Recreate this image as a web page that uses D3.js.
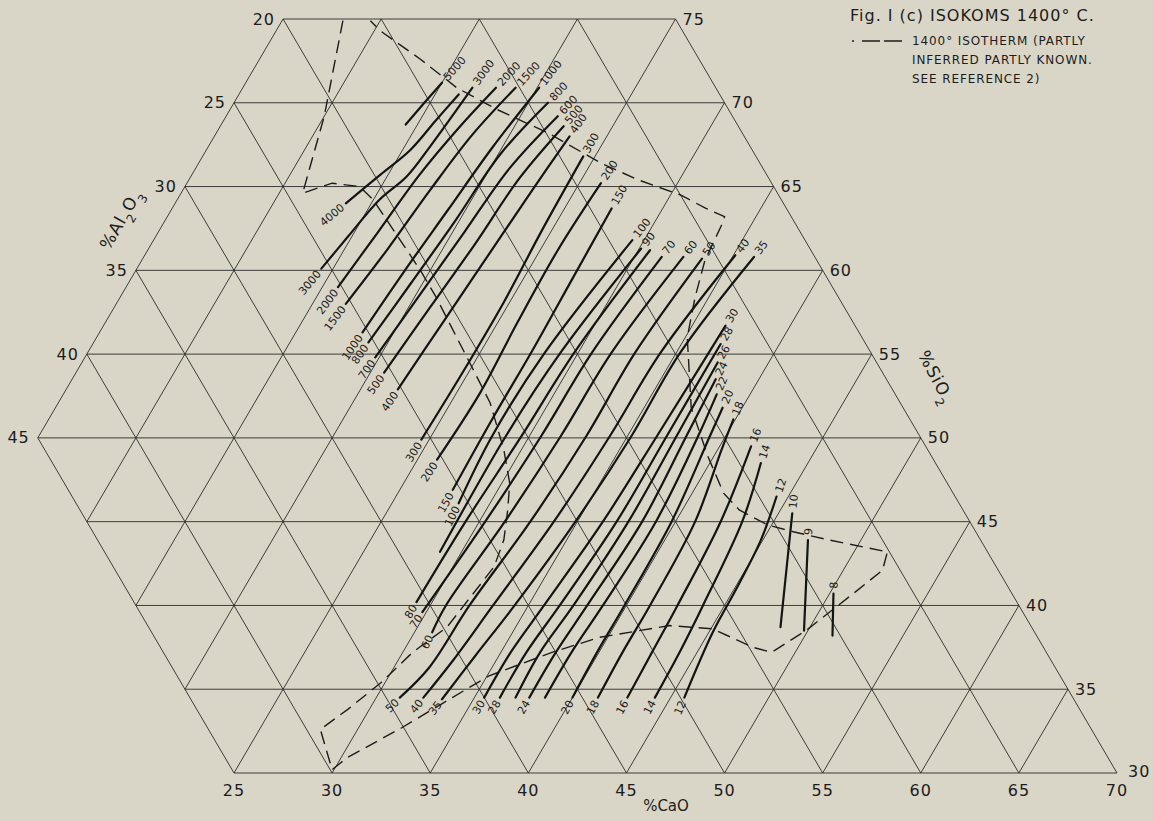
<!DOCTYPE html>
<html>
<head>
<meta charset="utf-8">
<script src="https://cdn.jsdelivr.net/npm/d3@7"></script>
<style>
  html, body { margin: 0; padding: 0; background: #dad6c7; }
  svg { display: block; }
  text { font-family: "DejaVu Sans", "Liberation Sans", sans-serif; fill: #1c1c1c; }
</style>
</head>
<body>
<svg id="chart" width="1154" height="821"></svg>
<script>
// edge tick labels
const caoTicks = [25, 30, 35, 40, 45, 50, 55, 60, 65, 70];
const al2o3Ticks = [20, 25, 30, 35, 40, 45];
const sio2Ticks = [75, 70, 65, 60, 55, 50, 45, 40, 35, 30];

// isokoms (poise), points as [CaO %, SiO2 %] from the low end to the high end
// lo = label at the lower end, hi = label at the upper end
const upperIsokoms = [
  {lo: null, hi: '5000', pts: [[14.4, 68.7], [14.7, 70.0], [15.0, 71.2]]},
  {lo: '4000', hi: null, pts: [[13.7, 64.0], [14.6, 65.7], [15.4, 67.2], [15.8, 68.9], [16.2, 70.5]]},
  {lo: '3000', hi: '3000', pts: [[14.4, 60.1], [14.8, 62.0], [15.3, 64.2], [16.0, 65.6], [16.3, 67.4], [16.7, 70.9]]},
  {lo: '2000', hi: '2000', pts: [[15.8, 59.0], [16.2, 62.3], [16.6, 65.7], [17.2, 68.5], [17.9, 70.9]]},
  {lo: '1500', hi: '1500', pts: [[16.7, 58.0], [17.2, 61.3], [17.6, 64.8], [18.1, 68.1], [18.9, 70.9]]},
  {lo: '1000', hi: '1000', pts: [[18.4, 56.3], [18.7, 59.9], [19.1, 63.6], [19.5, 67.3], [20.1, 70.9]]},
  {lo: '800', hi: '800', pts: [[19.0, 55.7], [19.4, 59.2], [19.8, 63.0], [20.1, 66.9], [21.0, 70.0]]},
  {lo: '700', hi: '600', pts: [[19.8, 54.8], [20.2, 58.5], [20.6, 62.3], [21.0, 66.1], [21.9, 69.2]]},
  {lo: '500', hi: '500', pts: [[20.7, 53.9], [21.1, 57.8], [21.5, 61.6], [21.8, 65.5], [22.5, 68.6]]},
  {lo: '400', hi: '400', pts: [[21.9, 52.9], [22.2, 56.9], [22.5, 60.8], [22.8, 64.7], [23.1, 68.0]]},
  {lo: '300', hi: '300', pts: [[24.6, 49.9], [24.7, 53.9], [24.7, 58.1], [24.5, 62.4], [24.4, 66.8]]},
  {lo: '200', hi: '200', pts: [[26.0, 48.7], [26.2, 52.7], [26.0, 56.9], [25.9, 61.2], [26.1, 65.2]]},
  {lo: '150', hi: '150', pts: [[27.7, 46.9], [27.6, 51.1], [27.6, 55.2], [27.5, 59.4], [27.4, 63.7]]}
];

const lowerIsokoms = [
  {lo: '100', hi: '100', pts: [[28.4, 46.1], [28.1, 50.1], [28.3, 55.1], [29.4, 61.8]]},
  {lo: null, hi: '90', pts: [[28.9, 43.2], [28.8, 50.1], [29.1, 55.1], [30.1, 61.3]]},
  {lo: '80', hi: null, pts: [[29.2, 40.2], [29.3, 45.0], [29.6, 50.1], [29.8, 55.1], [30.6, 61.2]]},
  {lo: '70', hi: '70', pts: [[29.8, 39.6], [30.3, 45.0], [30.6, 50.1], [30.7, 55.1], [31.4, 60.8]]},
  {lo: '60', hi: '60', pts: [[30.9, 38.4], [30.8, 40.0], [31.3, 45.0], [31.6, 50.1], [31.7, 55.1], [32.5, 60.8]]},
  {lo: '50', hi: '50', pts: [[31.2, 34.5], [31.8, 36.3], [32.0, 40.0], [32.6, 45.0], [32.9, 50.1], [32.9, 55.1], [33.5, 60.7]]},
  {lo: '40', hi: '40', pts: [[32.4, 34.5], [32.8, 36.7], [33.2, 40.0], [33.8, 45.0], [34.1, 50.1], [34.2, 55.1], [35.1, 60.9]]},
  {lo: '35', hi: '35', pts: [[33.4, 34.4], [33.8, 37.0], [34.3, 40.0], [34.9, 45.0], [35.2, 50.1], [35.2, 55.1], [36.1, 60.8]]},
  {lo: '30', hi: '30', pts: [[35.5, 34.5], [35.5, 37.2], [35.8, 40.0], [36.3, 45.0], [36.5, 50.1], [36.7, 56.7]]},
  {lo: '28', hi: '28', pts: [[36.3, 34.5], [36.3, 37.2], [36.6, 40.0], [37.0, 45.0], [37.0, 50.1], [37.0, 55.6]]},
  {lo: null, hi: '26', pts: [[37.1, 34.5], [37.0, 37.2], [37.3, 40.0], [37.6, 45.0], [37.5, 50.1], [37.4, 54.5]]},
  {lo: '24', hi: '24', pts: [[37.8, 34.5], [37.8, 37.2], [38.0, 40.0], [38.3, 45.0], [38.0, 50.1], [37.8, 53.5]]},
  {lo: null, hi: '22', pts: [[38.6, 34.5], [38.6, 37.2], [38.8, 40.0], [39.0, 45.0], [38.6, 50.1], [38.3, 52.6]]},
  {lo: '20', hi: '20', pts: [[40.0, 34.5], [39.9, 37.2], [39.9, 40.0], [39.8, 45.0], [39.2, 50.1], [39.0, 51.8]]},
  {lo: '18', hi: '18', pts: [[41.3, 34.5], [41.2, 37.2], [41.2, 40.0], [41.0, 45.0], [40.2, 49.3], [39.9, 51.1]]},
  {lo: '16', hi: '16', pts: [[42.8, 34.5], [42.7, 37.2], [42.6, 40.0], [42.3, 45.0], [41.6, 49.5]]},
  {lo: '14', hi: '14', pts: [[44.2, 34.5], [44.1, 37.3], [43.9, 40.0], [43.4, 45.0], [42.6, 48.5]]},
  {lo: '12', hi: '12', pts: [[45.7, 34.5], [45.2, 38.4], [45.1, 41.1], [44.9, 43.9], [44.4, 46.5]]}
];

const shortIsokoms = [
  {lo: null, hi: '10', pts: [[48.5, 38.7], [47.1, 42.1], [45.7, 45.5]]},
  {lo: null, hi: '9', pts: [[49.8, 38.5], [47.3, 43.9]]},
  {lo: null, hi: '8', pts: [[51.4, 38.2], [50.2, 40.7]]}
];

// 1400° isotherm boundary, [CaO %, SiO2 %]
const isotherm = [
  [8.1, 74.9], [10.0, 69.2], [11.2, 64.6], [12.4, 65.2], [13.9, 65.0], [15.0, 64.2],
  [16.5, 62.8], [19.5, 60.0], [21.1, 58.4], [24.1, 55.2], [27.0, 52.1], [29.1, 49.3],
  [30.4, 47.3], [31.1, 45.7], [31.8, 43.9], [32.1, 42.3], [31.7, 39.9], [31.5, 38.7],
  [30.5, 37.2], [29.8, 35.4], [28.9, 33.8], [28.1, 32.6], [29.9, 30.2], [30.3, 30.9],
  [32.2, 32.7], [33.5, 34.1], [35.1, 35.8], [37.6, 37.2], [39.6, 38.1], [42.8, 38.8],
  [45.1, 38.6], [47.7, 37.5], [48.8, 37.2], [49.9, 38.5], [51.2, 40.7], [52.0, 42.1],
  [51.7, 43.2], [48.4, 43.9], [46.3, 44.4], [44.8, 44.8], [42.9, 45.7], [41.6, 46.7],
  [39.7, 48.9], [37.4, 51.8], [35.1, 56.0], [34.3, 58.4], [33.7, 60.6], [33.5, 62.7],
  [33.4, 63.2], [32.2, 63.7], [30.5, 64.5], [27.9, 65.4], [25.5, 66.4], [21.9, 68.2],
  [18.6, 69.6], [15.9, 70.9], [13.2, 72.6], [10.3, 74.3], [9.5, 74.9]
];

const svg = d3.select('svg#chart');

// u = CaO + SiO2/2 runs along the bottom, SiO2 runs upward
const x = d3.scaleLinear().domain([40, 85]).range([234, 1117]);
const y = d3.scaleLinear().domain([30, 75]).range([773, 19]);
const project = p => [x(p[0] + p[1] / 2), y(p[1])];

// Grid
const grid = svg.append('g').attr('stroke', '#2a2a2a').attr('stroke-width', 0.9);
function seg(a, b) {
  const p = project(a), q = project(b);
  grid.append('line').attr('x1', p[0]).attr('y1', p[1]).attr('x2', q[0]).attr('y2', q[1]);
}
sio2Ticks.forEach(s => seg(s >= 50 ? [5, s] : [55 - s, s], [100 - s, s]));
d3.range(5, 75, 5).forEach(c => {
  const s0 = Math.max(30, 55 - c), s1 = Math.min(75, 100 - c);
  if (s1 > s0) seg([c, s0], [c, s1]);
});
d3.range(0, 50, 5).forEach(a => {
  const s1 = Math.min(75, 95 - a);
  seg([70 - a, 30], [100 - a - s1, s1]);
});

// Edge labels
const labels = svg.append('g').style('font-size', '16px').style('letter-spacing', '1px');
caoTicks.forEach(c => {
  const p = project([c, 30]);
  labels.append('text').attr('x', p[0]).attr('y', p[1] + 23)
    .attr('text-anchor', 'middle').text(c);
});
al2o3Ticks.forEach(a => {
  const p = project([5, 95 - a]);
  labels.append('text').attr('x', p[0] - 8).attr('y', p[1]).attr('dy', '0.35em')
    .attr('text-anchor', 'end').text(a);
});
sio2Ticks.forEach(s => {
  const p = project([100 - s, s]);
  labels.append('text').attr('x', p[0] + (s === 30 ? 11 : 7)).attr('y', p[1] - (s === 30 ? 2 : 0))
    .attr('dy', '0.35em').text(s);
});

// Axis titles
svg.append('text').attr('x', 666).attr('y', 811).attr('text-anchor', 'middle')
  .style('font-size', '15px').text('%CaO');

const alTitle = svg.append('text').attr('transform', 'translate(126,222) rotate(-60)')
  .attr('text-anchor', 'middle').style('font-size', '17px').style('letter-spacing', '1px');
alTitle.append('tspan').text('%Al');
alTitle.append('tspan').attr('baseline-shift', 'sub').style('font-size', '12px').text('2');
alTitle.append('tspan').text('O');
alTitle.append('tspan').attr('baseline-shift', 'sub').style('font-size', '12px').text('3');

const siTitle = svg.append('text').attr('transform', 'translate(931,380) rotate(62)')
  .attr('text-anchor', 'middle').style('font-size', '17px').style('letter-spacing', '1px');
siTitle.append('tspan').text('%SiO');
siTitle.append('tspan').attr('baseline-shift', 'sub').style('font-size', '12px').text('2');

// Isotherm
const line = d3.line().x(d => project(d)[0]).y(d => project(d)[1]);
svg.append('path').attr('d', line(isotherm)).attr('fill', 'none')
  .attr('stroke', '#1c1c1c').attr('stroke-width', 1.4).attr('stroke-dasharray', '13,7');

// Isokoms
const smooth = d3.line().curve(d3.curveCatmullRom.alpha(0.5))
  .x(d => project(d)[0]).y(d => project(d)[1]);
const curves = svg.append('g');
const tags = svg.append('g').style('font-size', '11px');

function endLabel(P, text, atStart) {
  const n = P.length;
  const a = atStart ? P[0] : P[n - 1];
  const b = atStart ? P[1] : P[n - 2];
  const dx = atStart ? b[0] - a[0] : a[0] - b[0];
  const dy = atStart ? b[1] - a[1] : a[1] - b[1];
  const len = Math.hypot(dx, dy), ux = dx / len, uy = dy / len;
  const gap = atStart ? -4 : 5;
  const ang = Math.atan2(dy, dx) * 180 / Math.PI;
  tags.append('text')
    .attr('transform', `translate(${a[0] + gap * ux},${a[1] + gap * uy}) rotate(${ang})`)
    .attr('text-anchor', atStart ? 'end' : 'start').attr('dy', '0.35em').text(text);
}

upperIsokoms.concat(lowerIsokoms, shortIsokoms).forEach(k => {
  curves.append('path').attr('d', smooth(k.pts)).attr('fill', 'none')
    .attr('stroke', '#141414').attr('stroke-width', 2.2).attr('stroke-linecap', 'round');
  const P = k.pts.map(project);
  if (k.lo) endLabel(P, k.lo, true);
  if (k.hi) endLabel(P, k.hi, false);
});

// Title and legend
svg.append('text').attr('x', 850).attr('y', 21).style('font-size', '16px')
  .style('letter-spacing', '1px').text('Fig. I (c) ISOKOMS 1400° C.');
svg.append('path').attr('d', 'M852,41h2M862,41h18M884,41h18')
  .attr('stroke', '#1c1c1c').attr('stroke-width', 1.4);
const legend = svg.append('g').style('font-size', '12px').style('letter-spacing', '0.9px');
['1400° ISOTHERM (PARTLY', 'INFERRED PARTLY KNOWN.', 'SEE REFERENCE 2)']
  .forEach((t, i) => legend.append('text').attr('x', 912).attr('y', 45 + i * 19).text(t));
</script>
</body>
</html>
